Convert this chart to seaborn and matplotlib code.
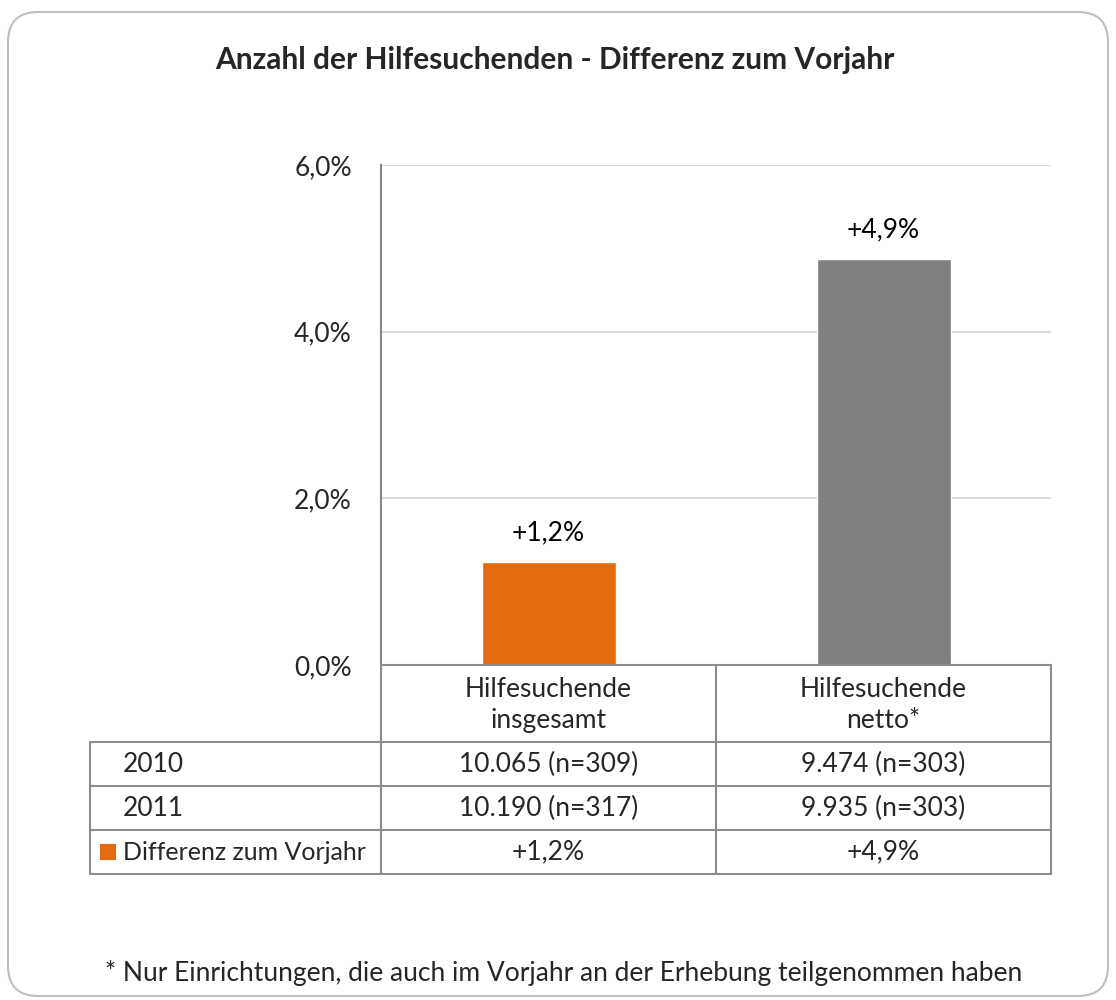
import matplotlib
matplotlib.use("Agg")
import matplotlib.pyplot as plt
import pandas as pd
import seaborn as sns
from matplotlib.lines import Line2D
from matplotlib.patches import FancyBboxPatch, Rectangle

# Daten
categories = ["Hilfesuchende\ninsgesamt", "Hilfesuchende\nnetto*"]
diff_values = [1.24, 4.87]
diff_labels = ["+1,2%", "+4,9%"]
bar_colors = ["#E46C0A", "#808080"]
row_2010 = ["10.065 (n=309)", "9.474 (n=303)"]
row_2011 = ["10.190 (n=317)", "9.935 (n=303)"]
yticks = [0, 2, 4, 6]
ytick_labels = ["0,0%", "2,0%", "4,0%", "6,0%"]

sns.set_theme(style="white")
plt.rcParams["font.family"] = ["Lato", "DejaVu Sans"]

FS = 19
W, H = 1116, 1000
fig = plt.figure(figsize=(W / 100, H / 100), dpi=100)


def fx(x):
    return x / W


def fy(y):
    return 1 - y / H


# Rahmen
border = FancyBboxPatch((0.08, 0.04), 11.0, 9.84,
                        boxstyle="round,pad=0,rounding_size=0.3",
                        transform=fig.dpi_scale_trans, facecolor="none",
                        edgecolor="#BFBFBF", linewidth=1.5, zorder=-1)
fig.add_artist(border)

ax_left, ax_right, ax_top, ax_bot = 381, 1051, 165, 665
ax = fig.add_axes([fx(ax_left), fy(ax_bot), fx(ax_right - ax_left),
                   (ax_bot - ax_top) / H])
ax.set_facecolor("none")

df = pd.DataFrame({"kat": categories, "wert": diff_values})
sns.barplot(data=df, x="kat", y="wert", hue="kat", palette=bar_colors,
            width=0.4, legend=False, ax=ax, zorder=3, saturation=1)
for p, lab in zip(ax.patches, diff_labels):
    ax.text(p.get_x() + p.get_width() / 2, p.get_height() + 0.2, lab,
            ha="center", va="bottom", fontsize=FS, color="#000000")

ax.set_xlim(-0.5, 1.5)
ax.set_ylim(0, 6)
ax.set_yticks(yticks)
ax.set_yticklabels(ytick_labels, fontsize=FS)
ax.set_xticks([])
ax.set_xlabel("")
ax.set_ylabel("")
ax.tick_params(axis="y", length=0, pad=21)
for y in yticks[1:]:
    ax.axhline(y, color="#D9D9D9", linewidth=1.5, zorder=1)
for s in ["top", "right", "bottom"]:
    ax.spines[s].set_visible(False)
ax.spines["left"].set_color("#868686")
ax.spines["left"].set_linewidth(1.5)

fig.text(0.497, fy(60), "Anzahl der Hilfesuchenden - Differenz zum Vorjahr",
         ha="center", va="center", fontsize=21.5, fontweight="bold")

# Datentabelle
lc = "#8C8C8C"


def hline(x0, x1, y):
    fig.add_artist(Line2D([fx(x0), fx(x1)], [fy(y), fy(y)], color=lc, lw=1.5))


def vline(x, y0, y1):
    fig.add_artist(Line2D([fx(x), fx(x)], [fy(y0), fy(y1)], color=lc, lw=1.5))


mid = 716
left = 90
rows_y = [742, 786, 830, 874]
hline(ax_left, ax_right, ax_bot)
for y in rows_y:
    hline(left, ax_right, y)
vline(ax_left, ax_bot, rows_y[-1])
vline(mid, ax_bot, rows_y[-1])
vline(ax_right, ax_bot, rows_y[-1])
vline(left, rows_y[0], rows_y[-1])

col_c = [(ax_left + mid) / 2, (mid + ax_right) / 2]
for c, cat in zip(col_c, categories):
    fig.text(fx(c), fy(705), cat, ha="center", va="center", fontsize=FS,
             linespacing=1.3)

row_c = [(rows_y[i] + rows_y[i + 1]) / 2 for i in range(3)]
fig.text(fx(123), fy(row_c[0]), "2010", ha="left", va="center", fontsize=FS)
fig.text(fx(123), fy(row_c[1]), "2011", ha="left", va="center", fontsize=FS)
fig.text(fx(123), fy(row_c[2]), "Differenz zum Vorjahr", ha="left",
         va="center", fontsize=18)
fig.add_artist(Rectangle((fx(100), fy(row_c[2] + 8)), fx(16), 16 / H,
                         facecolor=bar_colors[0], edgecolor="none"))
for i, c in enumerate(col_c):
    fig.text(fx(c), fy(row_c[0]), row_2010[i], ha="center", va="center", fontsize=FS)
    fig.text(fx(c), fy(row_c[1]), row_2011[i], ha="center", va="center", fontsize=FS)
    fig.text(fx(c), fy(row_c[2]), diff_labels[i], ha="center", va="center", fontsize=FS)

fig.text(fx(105), fy(973),
         "* Nur Einrichtungen, die auch im Vorjahr an der Erhebung teilgenommen haben",
         ha="left", va="center", fontsize=FS)

fig.savefig("out.png", dpi=100, facecolor="white")
